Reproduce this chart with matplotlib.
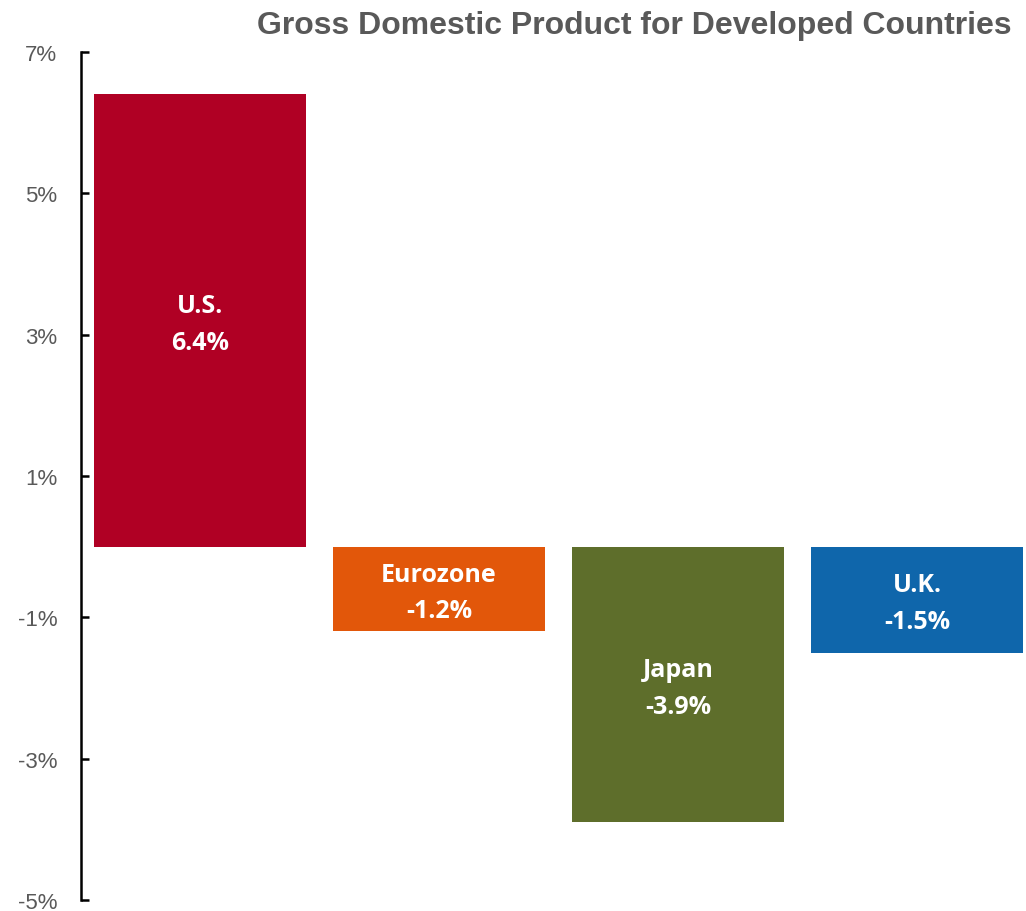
import matplotlib
matplotlib.use("Agg")
import matplotlib.pyplot as plt

# GDP growth by region
regions = ["U.S.", "Eurozone", "Japan", "U.K."]
gdp = [6.4, -1.2, -3.9, -1.5]
colors = ["#B00024", "#E2570A", "#5E6E2B", "#0F66AB"]
yticks = [7, 5, 3, 1, -1, -3, -5]

fig = plt.figure(figsize=(10.26, 9.12), dpi=100)
ax = fig.add_axes([81 / 1026, 11 / 912, 945 / 1026, 848 / 912])

x = range(len(regions))
ax.bar(x, gdp, width=0.887, color=colors, zorder=2)

# label in the middle of each bar, nudged slightly down
for xi, name, val in zip(x, regions, gdp):
    ax.text(xi, val / 2 - 0.05, f"{name}\n{val:.1f}%", ha="center", va="center",
            color="white", fontsize=18, fontweight="bold", family="Open Sans",
            linespacing=1.6)

ax.set_xlim(-0.498, 3.456)
ax.set_ylim(-5, 7)
ax.set_yticks(yticks)
ax.set_yticklabels([f"{t}%" for t in yticks])
ax.tick_params(axis="y", direction="in", length=6, width=1.8, pad=17,
               labelsize=16, labelcolor="#595959")
for lbl in ax.get_yticklabels():
    lbl.set_family("Liberation Sans")
ax.set_xticks([])

for side in ["top", "right", "bottom"]:
    ax.spines[side].set_visible(False)
ax.spines["left"].set_linewidth(1.8)

fig.text(1012 / 1026, 1 - 34 / 912, "Gross Domestic Product for Developed Countries",
         ha="right", va="baseline", fontsize=23, fontweight="bold",
         color="#595959", family="Liberation Sans")

fig.savefig("out.png", dpi=100)
